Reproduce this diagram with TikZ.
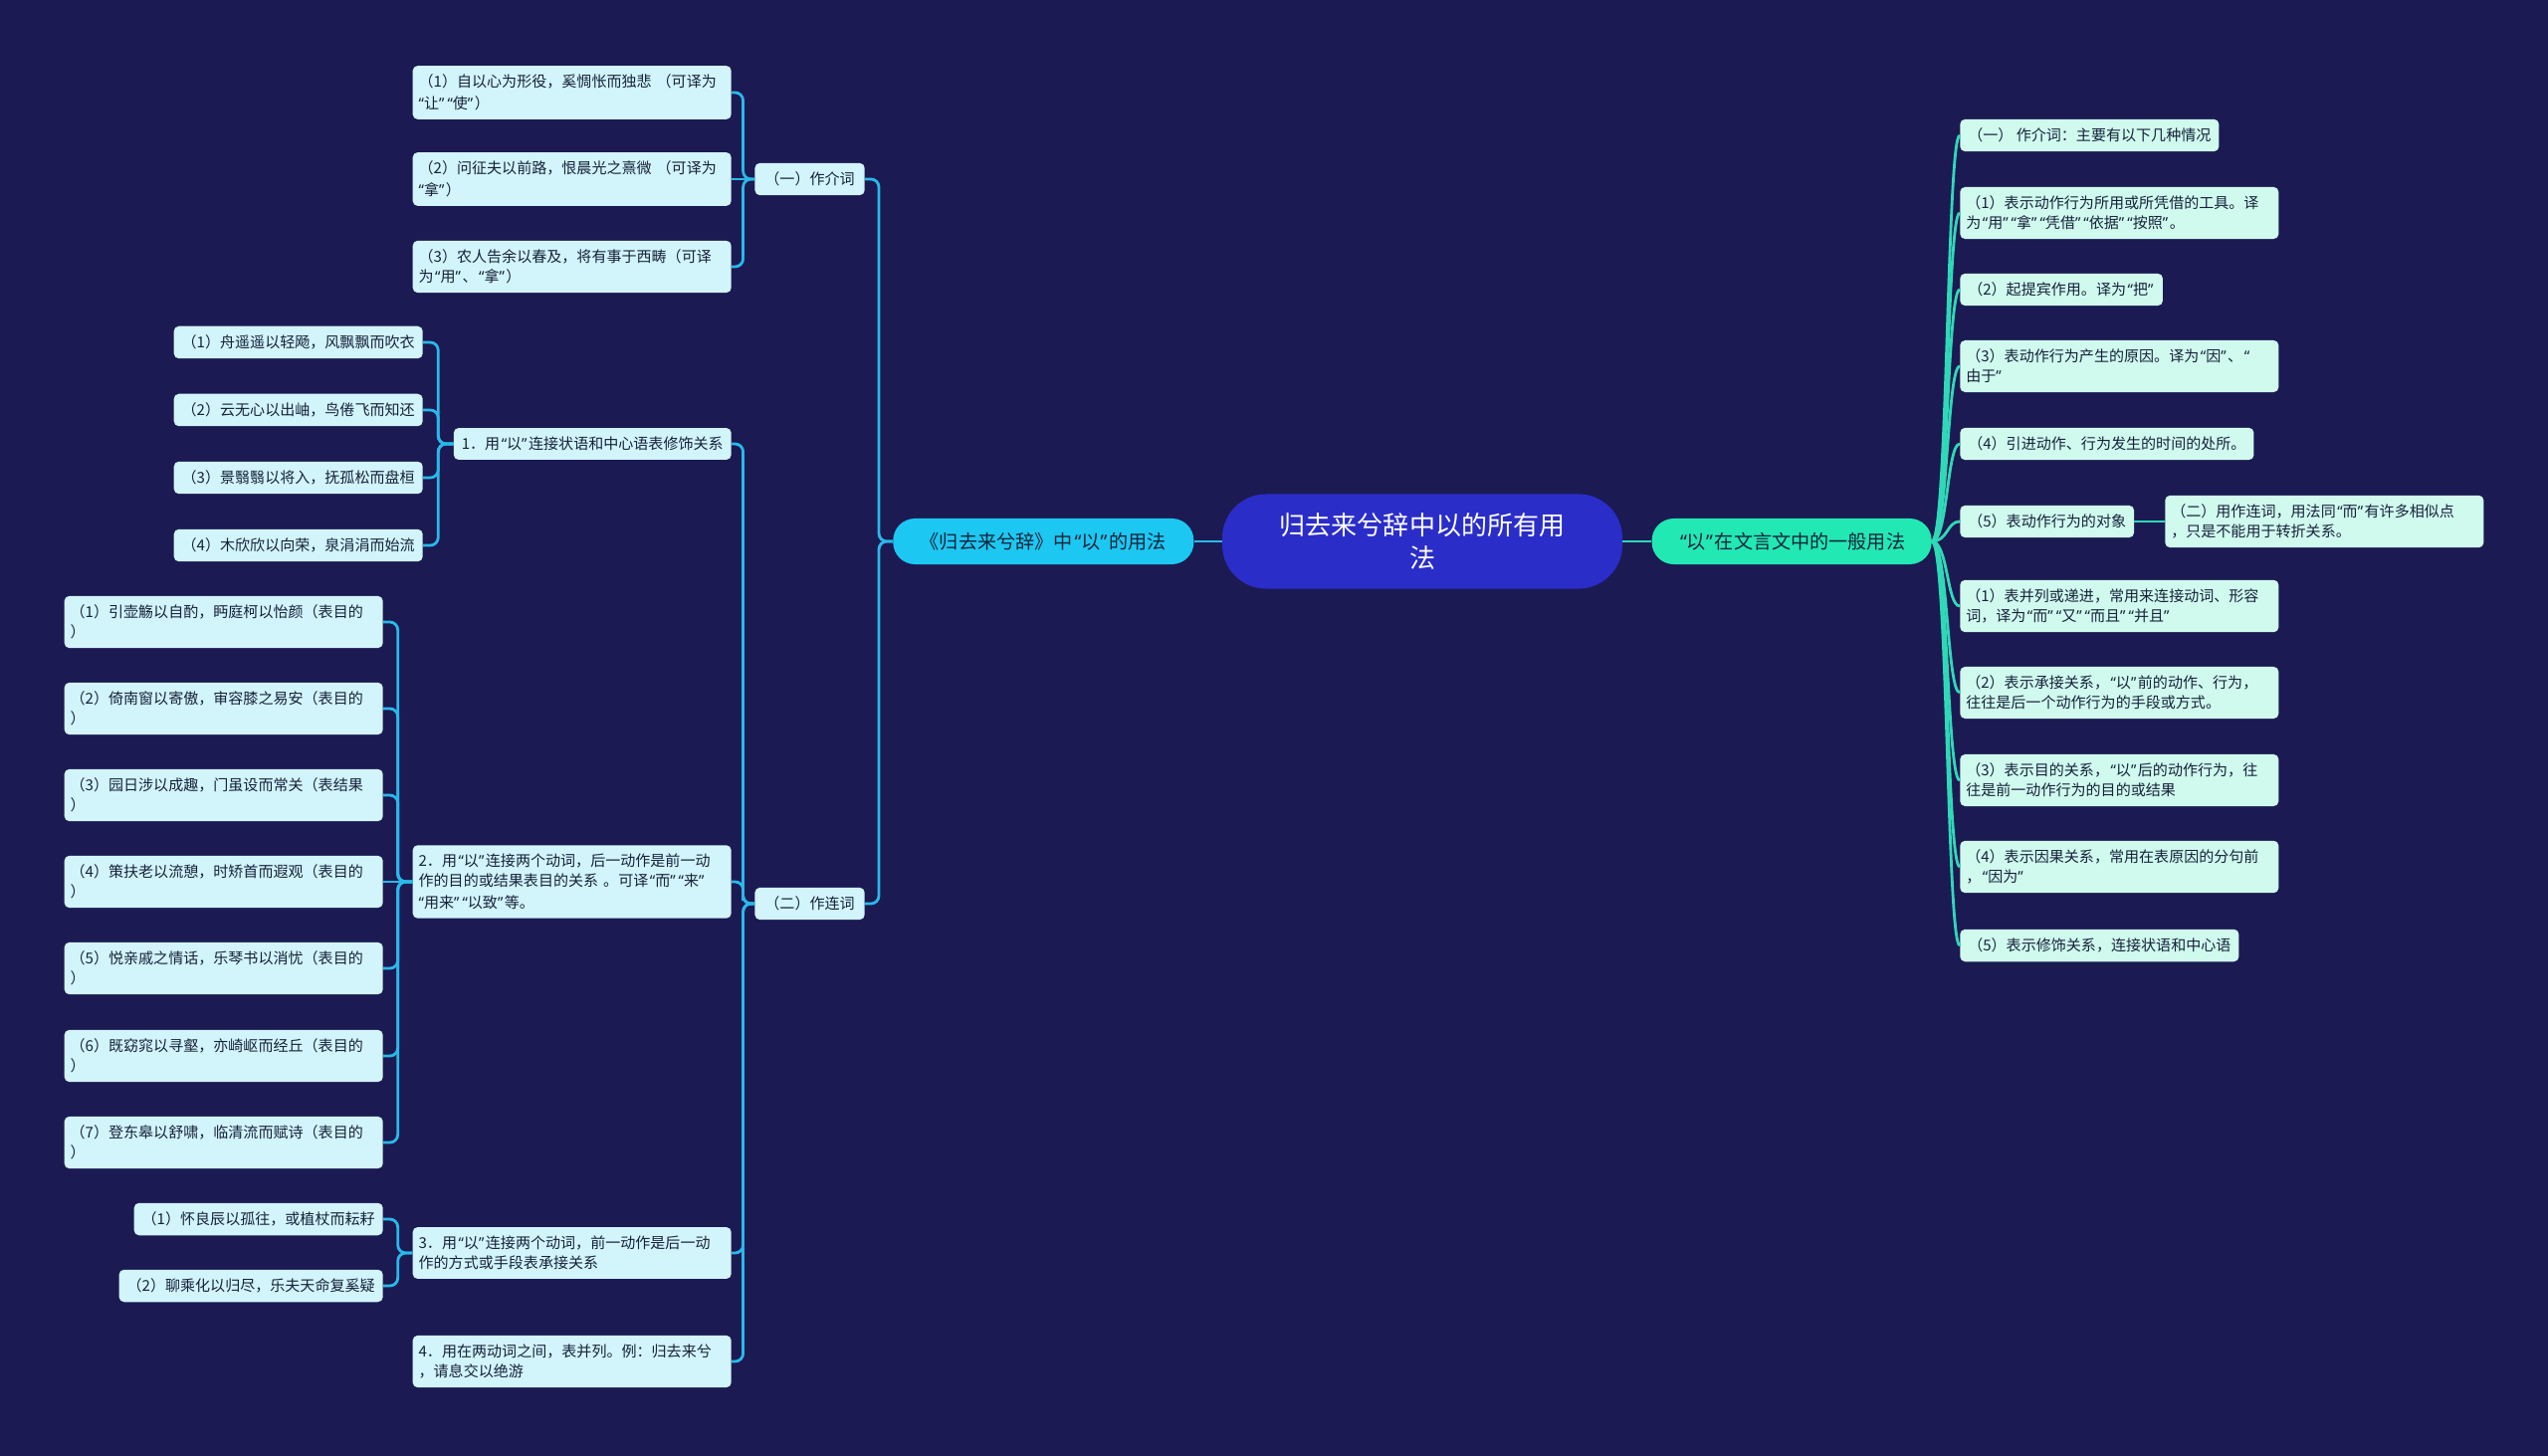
\documentclass[tikz,border=0pt]{standalone}
\usepackage{fontspec}
\setmainfont{Noto Sans CJK SC}
\newfontfamily\quotefont{Noto Sans}
\usepackage{tikz}
\usetikzlibrary{positioning,calc}
\definecolor{mapnavy}{HTML}{1B1A52}
\definecolor{rootblue}{HTML}{2A2DC8}
\definecolor{mainsky}{HTML}{1CC8F2}
\definecolor{mainmint}{HTML}{22E8B4}
\definecolor{leafsky}{HTML}{D2F4FB}
\definecolor{leafmint}{HTML}{D0FAEE}
\definecolor{wiresky}{HTML}{2AB8EA}
\definecolor{wiremint}{HTML}{30D8B8}
\definecolor{mapink}{HTML}{16223A}
\newcommand\mapleaffont{\fontsize{10.7}{14.2}\selectfont}
% narrow curly quotes as in the reference
\newcommand\oq{\kern0.1em{\quotefont “}}
\newcommand\cq{{\quotefont ”}\kern0.1em}

\begin{document}
\begin{tikzpicture}[x=0.025cm, y=-0.025cm,
    rootbox/.style={fill=rootblue, text=white, rounded corners=1.1cm,
        minimum width=10.05cm, minimum height=2.375cm, inner sep=0pt,
        align=center, font=\fontsize{18.5}{24}\selectfont},
    mainbox/.style={text=mapink, rounded corners=0.55cm, minimum height=1.15cm,
        inner xsep=0.5cm, inner ysep=0pt, font=\fontsize{13.6}{16}\selectfont},
    sleaf/.style={fill=leafsky, text=mapink, rounded corners=0.125cm,
        inner xsep=0.2cm, inner ysep=0.225cm, font=\mapleaffont, anchor=east},
    swrap/.style={sleaf, inner xsep=0.15cm, text width=7.7cm, align=left},
    mleaf/.style={fill=leafmint, text=mapink, rounded corners=0.125cm,
        inner xsep=0.2cm, inner ysep=0.225cm, font=\mapleaffont, anchor=west},
    mwrap/.style={mleaf, inner xsep=0.15cm, text width=7.7cm, align=left},
    lwire/.style={draw=wiresky, line width=2pt, rounded corners=0.2cm,
        to path={-| ($(\tikztostart)!0.5!(\tikztotarget)$) |- (\tikztotarget)}},
    lstraight/.style={draw=wiresky, line width=2pt},
    rwire/.style={draw=wiremint, line width=2pt,
        to path={.. controls ($(\tikztostart)+(16,0)$) and ($(\tikztotarget)+(-13,0)$) .. (\tikztotarget)}}]

  \fill[mapnavy] (0,0) rectangle (2560,1463);
  \useasboundingbox (0,0) rectangle (2560,1463);

  % centre and the two main branches
  \node[rootbox] (root) at (1429,544) {归去来兮辞中以的所有用\\法};
  \node[mainbox, fill=mainsky, minimum width=7.55cm, left=0.7cm of root] (lmain) {《归去来兮辞》中\oq{}以\cq{}的用法};
  \node[mainbox, fill=mainmint, minimum width=7.025cm, right=0.725cm of root] (rmain) {\oq{}以\cq{}在文言文中的一般用法};

  % left side
  \node[sleaf, inner xsep=0.25cm] (jie) at (869,180) {（一）作介词};
  \node[sleaf, inner xsep=0.25cm] (lian) at (869,908) {（二）作连词};

  \node[swrap] (jie1) at (735,93) {（1）自以心为形役，奚惆怅而独悲~（可译为\\\oq{}让\cq\oq{}使\cq{}）};
  \node[swrap] (jie2) at (735,180) {（2）问征夫以前路，恨晨光之熹微~（可译为\\\oq{}拿\cq{}）};
  \node[swrap] (jie3) at (735,268) {（3）农人告余以春及，将有事于西畴（可译\\为\oq{}用\cq{}、\oq{}拿\cq{}）};

  \node[sleaf] (lian1) at (735,446) {1．用\oq{}以\cq{}连接状语和中心语表修饰关系};
  \node[swrap] (lian2) at (735,886) {2．用\oq{}以\cq{}连接两个动词，后一动作是前一动\\作的目的或结果表目的关系~。可译\oq{}而\cq\oq{}来\cq\\\oq{}用来\cq\oq{}以致\cq{}等。};
  \node[swrap] (lian3) at (735,1259) {3．用\oq{}以\cq{}连接两个动词，前一动作是后一动\\作的方式或手段表承接关系};
  \node[swrap] (lian4) at (735,1368) {4．用在两动词之间，表并列。例：归去来兮\\，请息交以绝游};

  \node[sleaf] (xs1) at (425,344) {（1）舟遥遥以轻飏，风飘飘而吹衣};
  \node[sleaf] (xs2) at (425,412) {（2）云无心以出岫，鸟倦飞而知还};
  \node[sleaf] (xs3) at (425,480) {（3）景翳翳以将入，抚孤松而盘桓};
  \node[sleaf] (xs4) at (425,548) {（4）木欣欣以向荣，泉涓涓而始流};

  \node[swrap] (md1) at (385,625) {（1）引壶觞以自酌，眄庭柯以怡颜（表目的\\）};
  \node[swrap] (md2) at (385,712) {（2）倚南窗以寄傲，审容膝之易安（表目的\\）};
  \node[swrap] (md3) at (385,799) {（3）园日涉以成趣，门虽设而常关（表结果\\）};
  \node[swrap] (md4) at (385,886) {（4）策扶老以流憩，时矫首而遐观（表目的\\）};
  \node[swrap] (md5) at (385,973) {（5）悦亲戚之情话，乐琴书以消忧（表目的\\）};
  \node[swrap] (md6) at (385,1061) {（6）既窈窕以寻壑，亦崎岖而经丘（表目的\\）};
  \node[swrap] (md7) at (385,1148) {（7）登东皋以舒啸，临清流而赋诗（表目的\\）};

  \node[sleaf] (cj1) at (385,1225) {（1）怀良辰以孤往，或植杖而耘耔};
  \node[sleaf] (cj2) at (385,1292) {（2）聊乘化以归尽，乐夫天命复奚疑};

  % right side
  \node[mleaf] (gy0) at (1969,136) {（一） 作介词：主要有以下几种情况};
  \node[mwrap] (gy1) at (1969,214) {（1）表示动作行为所用或所凭借的工具。译\\为\oq{}用\cq\oq{}拿\cq\oq{}凭借\cq\oq{}依据\cq\oq{}按照\cq{}。};
  \node[mleaf] (gy2) at (1969,291) {（2）起提宾作用。译为\oq{}把\cq};
  \node[mwrap] (gy3) at (1969,368) {（3）表动作行为产生的原因。译为\oq{}因\cq{}、\oq\\由于\cq};
  \node[mleaf] (gy4) at (1969,446) {（4）引进动作、行为发生的时间的处所。};
  \node[mleaf] (gy5) at (1969,524) {（5）表动作行为的对象};
  \node[mwrap] (gylian) at (2175,524) {（二）用作连词，用法同\oq{}而\cq{}有许多相似点\\，只是不能用于转折关系。};
  \node[mwrap] (gl1) at (1969,609) {（1）表并列或递进，常用来连接动词、形容\\词，译为\oq{}而\cq\oq{}又\cq\oq{}而且\cq\oq{}并且\cq};
  \node[mwrap] (gl2) at (1969,696) {（2）表示承接关系，\oq{}以\cq{}前的动作、行为，\\往往是后一个动作行为的手段或方式。};
  \node[mwrap] (gl3) at (1969,784) {（3）表示目的关系，\oq{}以\cq{}后的动作行为，往\\往是前一动作行为的目的或结果};
  \node[mwrap] (gl4) at (1969,871) {（4）表示因果关系，常用在表原因的分句前\\，\oq{}因为\cq};
  \node[mleaf] (gl5) at (1969,950) {（5）表示修饰关系，连接状语和中心语};

  % connectors
  \draw[lstraight] (root.west) -- (lmain.east);
  \draw[wiremint, line width=2pt] (root.east) -- (rmain.west);

  \draw[lwire] (lmain.west) to (jie.east);
  \draw[lwire] (lmain.west) to (lian.east);
  \draw[lwire] (jie.west) to (jie1.east);
  \draw[lstraight] (jie.west) -- (jie2.east);
  \draw[lwire] (jie.west) to (jie3.east);
  \draw[lwire] (lian.west) to (lian1.east);
  \draw[lwire] (lian.west) to (lian2.east);
  \draw[lwire] (lian.west) to (lian3.east);
  \draw[lwire] (lian.west) to (lian4.east);
  \draw[lwire] (lian1.west) to (xs1.east);
  \draw[lwire] (lian1.west) to (xs2.east);
  \draw[lwire] (lian1.west) to (xs3.east);
  \draw[lwire] (lian1.west) to (xs4.east);
  \draw[lwire] (lian2.west) to (md1.east);
  \draw[lwire] (lian2.west) to (md2.east);
  \draw[lwire] (lian2.west) to (md3.east);
  \draw[lstraight] (lian2.west) -- (md4.east);
  \draw[lwire] (lian2.west) to (md5.east);
  \draw[lwire] (lian2.west) to (md6.east);
  \draw[lwire] (lian2.west) to (md7.east);
  \draw[lwire] (lian3.west) to (cj1.east);
  \draw[lwire] (lian3.west) to (cj2.east);

  \draw[rwire] (rmain.east) to (gy0.west);
  \draw[rwire] (rmain.east) to (gy1.west);
  \draw[rwire] (rmain.east) to (gy2.west);
  \draw[rwire] (rmain.east) to (gy3.west);
  \draw[rwire] (rmain.east) to (gy4.west);
  \draw[rwire] (rmain.east) to (gy5.west);
  \draw[rwire] (rmain.east) to (gl1.west);
  \draw[rwire] (rmain.east) to (gl2.west);
  \draw[rwire] (rmain.east) to (gl3.west);
  \draw[rwire] (rmain.east) to (gl4.west);
  \draw[rwire] (rmain.east) to (gl5.west);
  \draw[wiremint, line width=2pt] (gy5.east) -- (gylian.west);
\end{tikzpicture}
\end{document}
